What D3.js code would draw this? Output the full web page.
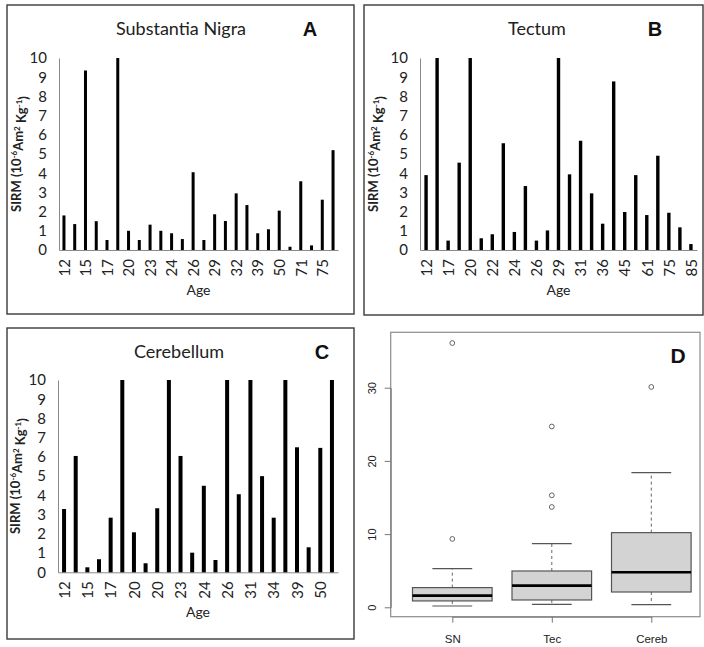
<!DOCTYPE html>
<html>
<head>
<meta charset="utf-8">
<script src="https://cdn.jsdelivr.net/npm/d3@7"></script>
<style>
  body { margin: 0; background: #fff; }
  svg { display: block; }
</style>
</head>
<body>
<div id="chart"></div>
<script>
// ages on the x axis (only every other one is printed in the figure)
var snAges = [12,14,15,16,17,19,20,22,23,23,24,25,26,27,29,31,32,36,39,44,50,60,71,73,75,80];
var snSirm = [1.8,1.35,9.35,1.5,0.52,36.1,1.0,0.52,1.32,1.0,0.87,0.57,4.05,0.52,1.86,1.51,2.95,2.34,0.87,1.08,2.05,0.17,3.58,0.24,2.62,5.2];

var tecAges = [12,15,17,19,20,21,22,23,24,25,26,28,29,30,31,33,36,40,45,52,61,70,75,80,85];
var tecSirm = [3.9,15.3,0.49,4.55,24.7,0.61,0.82,5.56,0.94,3.33,0.49,1.02,13.7,3.94,5.69,2.95,1.37,8.78,1.98,3.9,1.82,4.91,1.94,1.18,0.31];

var cerAges = [12,14,15,16,17,18,20,20,20,22,23,24,24,25,26,29,31,33,34,37,39,44,50,55];
var cerSirm = [3.29,6.05,0.26,0.68,2.84,12.1,2.08,0.47,3.33,18.4,6.05,1.02,4.5,0.64,30.1,4.06,10.6,5.0,2.84,14.9,6.5,1.3,6.47,11.3];

var barTicks = [0,1,2,3,4,5,6,7,8,9,10];

// boxplot summary (panel D)
var groups = ["SN", "Tec", "Cereb"];
var whiskerLow = [0.18, 0.41, 0.36];
var q1 = [0.87, 1.0, 2.09];
var median = [1.6, 2.96, 4.78];
var q3 = [2.69, 4.96, 10.2];
var whiskerHigh = [5.28, 8.7, 18.4];
var outliers = [[9.34, 36.1], [13.7, 15.3, 24.7], [30.1]];
var boxTicks = [0, 10, 20, 30];

var W = 704, H = 647;
var svg = d3.select("#chart").append("svg")
    .attr("width", W)
    .attr("height", H);

var excelFont = "Lato, 'Open Sans', sans-serif";
var rFont = "'Liberation Sans', Arial, sans-serif";

// #########################################################
// bar panels A, B, C
// #########################################################
function drawBarPanel(p, ages, vals) {
    svg.append("rect")
        .attr("x", p.box[0]).attr("y", p.box[1])
        .attr("width", p.box[2]).attr("height", p.box[3])
        .attr("fill", "none")
        .attr("stroke", "#3a3a3a")
        .attr("stroke-width", 1.4);

    var x = d3.scalePoint()
        .domain(d3.range(ages.length))
        .range([p.x0, p.x1])
        .padding(p.pad);

    var y = d3.scaleLinear()
        .domain([0, 10])
        .range([p.y0, p.y1])
        .clamp(true);

    // y axis
    var gy = svg.append("g")
        .attr("transform", "translate(" + p.x0 + ",0)")
        .call(d3.axisLeft(y).tickValues(barTicks).tickSizeInner(0).tickSizeOuter(0).tickPadding(12));
    gy.select(".domain").attr("stroke", "#8a8a8a");
    gy.selectAll("text")
        .attr("font-family", excelFont)
        .attr("font-size", 15)
        .attr("fill", "#222");

    // x axis
    var gx = svg.append("g")
        .attr("transform", "translate(0," + p.y0 + ")")
        .call(d3.axisBottom(x)
            .tickValues(d3.range(0, ages.length, 2))
            .tickFormat(i => ages[i])
            .tickSizeInner(0).tickSizeOuter(0));
    gx.select(".domain").attr("stroke", "#8a8a8a");
    gx.selectAll("text")
        .attr("font-family", excelFont)
        .attr("font-size", 15)
        .attr("fill", "#222")
        .attr("text-anchor", "end")
        .attr("x", -9)
        .attr("y", 0)
        .attr("dy", "0.35em")
        .attr("transform", "rotate(-90)");

    // bars
    svg.append("g")
        .selectAll("rect")
        .data(vals)
        .enter()
        .append("rect")
        .attr("x", (d, i) => x(i) - p.barW / 2)
        .attr("y", d => y(d))
        .attr("width", p.barW)
        .attr("height", d => y(0) - y(d))
        .attr("fill", "#000");

    // title + panel letter
    svg.append("text")
        .attr("x", p.titleX).attr("y", p.titleY)
        .attr("text-anchor", "middle")
        .attr("font-family", excelFont)
        .attr("font-size", 18)
        .attr("fill", "#222")
        .text(p.title);
    svg.append("text")
        .attr("x", p.letterX).attr("y", p.titleY + 1)
        .attr("text-anchor", "middle")
        .attr("font-family", rFont)
        .attr("font-weight", "bold")
        .attr("font-size", 20)
        .attr("fill", "#111")
        .text(p.letter);

    // axis titles
    svg.append("text")
        .attr("x", (p.x0 + p.x1) / 2).attr("y", p.y0 + 45)
        .attr("text-anchor", "middle")
        .attr("font-family", excelFont)
        .attr("font-size", 14)
        .attr("fill", "#222")
        .text("Age");

    var yt = svg.append("text")
        .attr("transform", "translate(" + p.ytX + "," + ((p.y0 + p.y1) / 2) + ") rotate(-90)")
        .attr("text-anchor", "middle")
        .attr("font-family", excelFont)
        .attr("font-weight", "bold")
        .attr("font-size", 13)
        .attr("fill", "#222");
    yt.append("tspan").text("SIRM (10");
    yt.append("tspan").attr("dy", "-0.45em").attr("font-size", 8).text("-6");
    yt.append("tspan").attr("dy", "0.45em").text("Am");
    yt.append("tspan").attr("dy", "-0.45em").attr("font-size", 8).text("2");
    yt.append("tspan").attr("dy", "0.45em").text(" Kg");
    yt.append("tspan").attr("dy", "-0.45em").attr("font-size", 8).text("-1");
    yt.append("tspan").attr("dy", "0.45em").text(")");
}

drawBarPanel({box: [7, 5, 347, 309], x0: 59, x1: 338, y0: 250, y1: 58, pad: 0.46, barW: 3,
              title: "Substantia Nigra", titleX: 181, titleY: 35, letter: "A", letterX: 310, ytX: 21},
             snAges, snSirm);

drawBarPanel({box: [364, 5, 339, 310], x0: 420, x1: 697, y0: 250, y1: 58, pad: 0.55, barW: 3.4,
              title: "Tectum", titleX: 537, titleY: 35, letter: "B", letterX: 655, ytX: 378},
             tecAges, tecSirm);

drawBarPanel({box: [7, 328, 347, 311], x0: 58, x1: 338, y0: 572.3, y1: 380, pad: 0.52, barW: 4,
              title: "Cerebellum", titleX: 179, titleY: 358, letter: "C", letterX: 322, ytX: 20},
             cerAges, cerSirm);

// #########################################################
// panel D, boxplots
// #########################################################
var xD = d3.scaleLinear().domain([1, 3]).range([452.3, 651.3]);
var yD = d3.scaleLinear().domain([0, 30]).range([607.3, 387.7]);
var unit = xD(2) - xD(1);

svg.append("rect")
    .attr("x", 390.7).attr("y", 332.3)
    .attr("width", 309.3).attr("height", 284.4)
    .attr("fill", "none")
    .attr("stroke", "#8c8c8c")
    .attr("stroke-width", 1.2);

var gyD = svg.append("g")
    .attr("transform", "translate(390.7,0)")
    .call(d3.axisLeft(yD).tickValues(boxTicks).tickSizeInner(6).tickSizeOuter(0));
gyD.selectAll("line, .domain").attr("stroke", "#777");
gyD.selectAll("text")
    .attr("font-family", rFont)
    .attr("font-size", 11)
    .attr("fill", "#222")
    .attr("text-anchor", "middle")
    .attr("x", 0).attr("y", 0).attr("dy", 0)
    .attr("transform", "translate(-15,0) rotate(-90)");

var gxD = svg.append("g")
    .attr("transform", "translate(0,616.7)")
    .call(d3.axisBottom(xD).tickValues([1, 2, 3]).tickFormat(i => groups[i - 1])
        .tickSizeInner(6).tickSizeOuter(0).tickPadding(12));
gxD.selectAll("line, .domain").attr("stroke", "#777");
gxD.selectAll("text")
    .attr("font-family", rFont)
    .attr("font-size", 11.5)
    .attr("fill", "#222");

var box = svg.append("g")
    .selectAll("g")
    .data(groups)
    .enter()
    .append("g");

// whiskers (dashed)
box.append("line")
    .attr("x1", (d, i) => xD(i + 1)).attr("x2", (d, i) => xD(i + 1))
    .attr("y1", (d, i) => yD(q3[i])).attr("y2", (d, i) => yD(whiskerHigh[i]))
    .attr("stroke", "#666").attr("stroke-dasharray", "3,3");
box.append("line")
    .attr("x1", (d, i) => xD(i + 1)).attr("x2", (d, i) => xD(i + 1))
    .attr("y1", (d, i) => yD(q1[i])).attr("y2", (d, i) => yD(whiskerLow[i]))
    .attr("stroke", "#666").attr("stroke-dasharray", "3,3");

// caps
box.append("line")
    .attr("x1", (d, i) => xD(i + 1) - unit * 0.2).attr("x2", (d, i) => xD(i + 1) + unit * 0.2)
    .attr("y1", (d, i) => yD(whiskerHigh[i])).attr("y2", (d, i) => yD(whiskerHigh[i]))
    .attr("stroke", "#555").attr("stroke-width", 1.2);
box.append("line")
    .attr("x1", (d, i) => xD(i + 1) - unit * 0.2).attr("x2", (d, i) => xD(i + 1) + unit * 0.2)
    .attr("y1", (d, i) => yD(whiskerLow[i])).attr("y2", (d, i) => yD(whiskerLow[i]))
    .attr("stroke", "#555").attr("stroke-width", 1.2);

// boxes
box.append("rect")
    .attr("x", (d, i) => xD(i + 1) - unit * 0.4)
    .attr("y", (d, i) => yD(q3[i]))
    .attr("width", unit * 0.8)
    .attr("height", (d, i) => yD(q1[i]) - yD(q3[i]))
    .attr("fill", "#d3d3d3")
    .attr("stroke", "#555")
    .attr("stroke-width", 1.2);

// medians
box.append("line")
    .attr("x1", (d, i) => xD(i + 1) - unit * 0.4).attr("x2", (d, i) => xD(i + 1) + unit * 0.4)
    .attr("y1", (d, i) => yD(median[i])).attr("y2", (d, i) => yD(median[i]))
    .attr("stroke", "#000").attr("stroke-width", 2.6);

// outliers
box.selectAll("circle")
    .data((d, i) => outliers[i].map(v => ({g: i, v: v})))
    .enter()
    .append("circle")
    .attr("cx", d => xD(d.g + 1))
    .attr("cy", d => yD(d.v))
    .attr("r", 2.4)
    .attr("fill", "none")
    .attr("stroke", "#666")
    .attr("stroke-width", 1);

svg.append("text")
    .attr("x", 678).attr("y", 363)
    .attr("text-anchor", "middle")
    .attr("font-family", rFont)
    .attr("font-weight", "bold")
    .attr("font-size", 21)
    .attr("fill", "#111")
    .text("D");
</script>
</body>
</html>
